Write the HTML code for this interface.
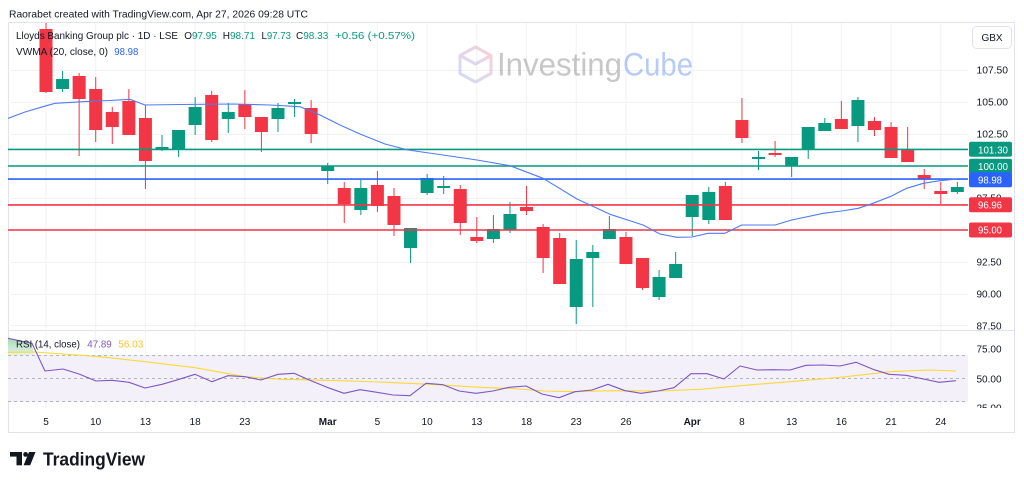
<!DOCTYPE html>
<html><head><meta charset="utf-8">
<style>
html,body{margin:0;padding:0;background:#fff;}
svg{display:block;}
text{font-family:"Liberation Sans",sans-serif;}
</style></head><body>
<svg width="1024" height="484" viewBox="0 0 1024 484" xmlns="http://www.w3.org/2000/svg">
<defs>
<clipPath id="mainClip"><rect x="8" y="23" width="960" height="307"/></clipPath>
<clipPath id="rsiClip"><rect x="8" y="331" width="960" height="77"/></clipPath>
<clipPath id="axClip"><rect x="969" y="23" width="46" height="307"/></clipPath>
<clipPath id="raxClip"><rect x="969" y="331" width="46" height="77"/></clipPath>
<linearGradient id="cubeG" x1="0" y1="1" x2="1" y2="0">
<stop offset="0" stop-color="#aebff5"/><stop offset="1" stop-color="#f3a9b6"/>
</linearGradient>
<linearGradient id="obG" x1="0" y1="0" x2="0" y2="1">
<stop offset="0" stop-color="#a9d9b6"/><stop offset="1" stop-color="#e3f3e7"/>
</linearGradient>
</defs>
<rect width="1024" height="484" fill="#fff"/>

<!-- header -->
<text x="9" y="17.3" font-size="10.5" fill="#131722" textLength="299" lengthAdjust="spacingAndGlyphs">Raorabet created with TradingView.com, Apr 27, 2026 09:28 UTC</text>

<!-- frame -->
<rect x="8.5" y="22.5" width="1006" height="410" fill="none" stroke="#e0e3eb" stroke-width="1"/>
<line x1="8" y1="330.5" x2="1015" y2="330.5" stroke="#e0e3eb" stroke-width="1"/>

<!-- grid -->
<g stroke="#f0f2f6" stroke-width="1">
<line x1="8" y1="70.5" x2="968" y2="70.5"/>
<line x1="8" y1="102.5" x2="968" y2="102.5"/>
<line x1="8" y1="134.5" x2="968" y2="134.5"/>
<line x1="8" y1="166.5" x2="968" y2="166.5"/>
<line x1="8" y1="198.5" x2="968" y2="198.5"/>
<line x1="8" y1="230.5" x2="968" y2="230.5"/>
<line x1="8" y1="262.5" x2="968" y2="262.5"/>
<line x1="8" y1="294.5" x2="968" y2="294.5"/>
<line x1="8" y1="325.5" x2="968" y2="325.5"/>
<line x1="46" y1="23" x2="46" y2="408"/>
<line x1="95.7" y1="23" x2="95.7" y2="408"/>
<line x1="145.4" y1="23" x2="145.4" y2="408"/>
<line x1="195.1" y1="23" x2="195.1" y2="408"/>
<line x1="244.8" y1="23" x2="244.8" y2="408"/>
<line x1="327.7" y1="23" x2="327.7" y2="408"/>
<line x1="377.4" y1="23" x2="377.4" y2="408"/>
<line x1="427.1" y1="23" x2="427.1" y2="408"/>
<line x1="476.8" y1="23" x2="476.8" y2="408"/>
<line x1="526.5" y1="23" x2="526.5" y2="408"/>
<line x1="576.2" y1="23" x2="576.2" y2="408"/>
<line x1="626" y1="23" x2="626" y2="408"/>
<line x1="692.2" y1="23" x2="692.2" y2="408"/>
<line x1="741.9" y1="23" x2="741.9" y2="408"/>
<line x1="791.7" y1="23" x2="791.7" y2="408"/>
<line x1="841.4" y1="23" x2="841.4" y2="408"/>
<line x1="891.1" y1="23" x2="891.1" y2="408"/>
<line x1="940.8" y1="23" x2="940.8" y2="408"/>
</g>

<!-- watermark -->
<g opacity="0.55">
<g fill="none" stroke="url(#cubeG)" stroke-width="3" stroke-linejoin="round">
<polygon points="475.5,47 491,55.5 491,73.5 475.5,82 460,73.5 460,55.5"/>
<polyline points="460,55.5 475.5,64 491,55.5"/>
<line x1="475.5" y1="64" x2="475.5" y2="82"/>
</g>
<text x="497" y="75.5" font-size="32" fill="#9a9a9a" textLength="125" lengthAdjust="spacingAndGlyphs">Investing</text>
<text x="623" y="75.5" font-size="32" fill="#7ea2f2" textLength="70" lengthAdjust="spacingAndGlyphs">Cube</text>
</g>

<!-- candles -->
<g clip-path="url(#mainClip)">
<g fill="#f23645">
<rect x="45.5" y="22" width="1" height="71"/><rect x="39.5" y="29" width="13" height="63"/>
<rect x="78.64" y="73" width="1" height="83"/><rect x="72.64" y="76" width="13" height="23"/>
<rect x="95.21" y="77" width="1" height="65"/><rect x="89.21" y="89" width="13" height="41"/>
<rect x="111.78" y="107" width="1" height="37"/><rect x="105.78" y="112" width="13" height="15"/>
<rect x="128.35" y="89" width="1" height="46"/><rect x="122.35" y="101" width="13" height="34"/>
<rect x="144.92" y="105" width="1" height="84"/><rect x="138.92" y="118" width="13" height="43"/>
<rect x="211.2" y="91" width="1" height="51"/><rect x="205.2" y="95" width="13" height="45"/>
<rect x="244.34" y="90" width="1" height="39"/><rect x="238.34" y="104" width="13" height="13"/>
<rect x="260.91" y="117" width="1" height="35"/><rect x="254.91" y="117" width="13" height="15"/>
<rect x="310.62" y="100" width="1" height="43"/><rect x="304.62" y="108" width="13" height="26"/>
<rect x="343.76" y="182" width="1" height="41"/><rect x="337.76" y="188" width="13" height="16"/>
<rect x="376.9" y="171" width="1" height="41"/><rect x="370.9" y="185" width="13" height="21"/>
<rect x="393.47" y="188" width="1" height="48"/><rect x="387.47" y="196" width="13" height="29"/>
<rect x="459.75" y="185" width="1" height="50"/><rect x="453.75" y="189" width="13" height="34"/>
<rect x="476.32" y="217" width="1" height="26"/><rect x="470.32" y="237" width="13" height="4"/>
<rect x="526.03" y="186" width="1" height="29"/><rect x="520.03" y="207" width="13" height="4"/>
<rect x="542.6" y="224" width="1" height="49"/><rect x="536.6" y="227" width="13" height="31"/>
<rect x="559.17" y="233" width="1" height="51"/><rect x="553.17" y="238" width="13" height="46"/>
<rect x="625.45" y="232" width="1" height="32"/><rect x="619.45" y="237" width="13" height="27"/>
<rect x="642.02" y="258" width="1" height="32"/><rect x="636.02" y="258" width="13" height="30"/>
<rect x="724.87" y="182" width="1" height="38"/><rect x="718.87" y="186" width="13" height="34"/>
<rect x="741.44" y="98" width="1" height="45"/><rect x="735.44" y="120" width="13" height="18"/>
<rect x="774.58" y="141" width="1" height="16"/><rect x="768.58" y="153" width="13" height="2"/>
<rect x="840.86" y="101" width="1" height="28"/><rect x="834.86" y="119" width="13" height="10"/>
<rect x="874.0" y="117" width="1" height="19"/><rect x="868.0" y="121" width="13" height="9"/>
<rect x="890.57" y="122" width="1" height="36"/><rect x="884.57" y="127" width="13" height="31"/>
<rect x="907.14" y="127" width="1" height="35"/><rect x="901.14" y="149" width="13" height="13"/>
<rect x="923.71" y="169" width="1" height="20"/><rect x="917.71" y="175" width="13" height="4"/>
<rect x="940.28" y="182" width="1" height="22"/><rect x="934.28" y="191" width="13" height="3"/>
</g>
<g fill="#089981">
<rect x="62.07" y="71" width="1" height="21"/><rect x="56.07" y="79" width="13" height="10"/>
<rect x="161.49" y="135" width="1" height="16"/><rect x="155.49" y="147" width="13" height="3"/>
<rect x="178.06" y="130" width="1" height="27"/><rect x="172.06" y="130" width="13" height="19"/>
<rect x="194.63" y="97" width="1" height="38"/><rect x="188.63" y="107" width="13" height="18"/>
<rect x="227.77" y="103" width="1" height="30"/><rect x="221.77" y="112" width="13" height="7"/>
<rect x="277.48" y="103" width="1" height="29"/><rect x="271.48" y="108" width="13" height="11"/>
<rect x="294.05" y="99" width="1" height="18"/><rect x="288.05" y="102" width="13" height="2"/>
<rect x="327.19" y="163" width="1" height="21"/><rect x="321.19" y="166" width="13" height="5"/>
<rect x="360.33" y="180" width="1" height="35"/><rect x="354.33" y="188" width="13" height="22"/>
<rect x="410.04" y="228" width="1" height="35"/><rect x="404.04" y="228" width="13" height="20"/>
<rect x="426.61" y="174" width="1" height="21"/><rect x="420.61" y="178" width="13" height="15"/>
<rect x="443.18" y="176" width="1" height="18"/><rect x="437.18" y="186" width="13" height="2"/>
<rect x="492.89" y="215" width="1" height="28"/><rect x="486.89" y="229" width="13" height="10"/>
<rect x="509.46" y="202" width="1" height="31"/><rect x="503.46" y="214" width="13" height="16"/>
<rect x="575.74" y="240" width="1" height="84"/><rect x="569.74" y="259" width="13" height="48"/>
<rect x="592.31" y="245" width="1" height="62"/><rect x="586.31" y="252" width="13" height="6"/>
<rect x="608.88" y="216" width="1" height="23"/><rect x="602.88" y="229" width="13" height="10"/>
<rect x="658.59" y="270" width="1" height="30"/><rect x="652.59" y="277" width="13" height="20"/>
<rect x="675.16" y="252" width="1" height="26"/><rect x="669.16" y="264" width="13" height="14"/>
<rect x="691.73" y="195" width="1" height="41"/><rect x="685.73" y="195" width="13" height="22"/>
<rect x="708.3" y="187" width="1" height="37"/><rect x="702.3" y="192" width="13" height="28"/>
<rect x="758.01" y="151" width="1" height="19"/><rect x="752.01" y="157" width="13" height="2"/>
<rect x="791.15" y="157" width="1" height="20"/><rect x="785.15" y="157" width="13" height="9"/>
<rect x="807.72" y="127" width="1" height="32"/><rect x="801.72" y="127" width="13" height="23"/>
<rect x="824.29" y="118" width="1" height="13"/><rect x="818.29" y="123" width="13" height="8"/>
<rect x="857.43" y="97" width="1" height="45"/><rect x="851.43" y="100" width="13" height="26"/>
<rect x="956.85" y="182" width="1" height="12"/><rect x="950.85" y="187" width="13" height="5"/>
</g>

<!-- level lines -->
<line x1="8" y1="149.4" x2="968" y2="149.4" stroke="#089981" stroke-width="1.6"/>
<line x1="8" y1="166" x2="968" y2="166" stroke="#089981" stroke-width="1.6"/>
<line x1="8" y1="179.1" x2="968" y2="179.1" stroke="#2962ff" stroke-width="1.6"/>
<line x1="8" y1="204.9" x2="968" y2="204.9" stroke="#f23645" stroke-width="1.6"/>
<line x1="8" y1="230" x2="968" y2="230" stroke="#f23645" stroke-width="1.6"/>

<!-- VWMA -->
<polyline fill="none" stroke="#4e7cf5" stroke-width="1.1" stroke-linejoin="round"
points="8,118.3 25,112 43,106.7 55,103.3 83,101.7 110,100.5 130,99.3 145,105 180,104.5 233,104 270,105 300,106.7 320,115 340,125 360,134 385,144 408,150 443,155 477,160 510,165.7 543,178.3 577,199 610,214.3 643,225 660,234 677,237.3 692,237 708,233.3 725,233.3 741.7,225 775,225 791.7,220 823.3,213.3 841.7,211 858.3,208.3 873,203.3 890,196.7 906.7,188.3 923.3,183.3 940,180.7 957,179"/>
</g>

<!-- legend -->
<text x="16" y="39" font-size="10.5" fill="#131722" textLength="162" lengthAdjust="spacingAndGlyphs">Lloyds Banking Group plc · 1D · LSE</text>
<text x="184.3" y="39" font-size="10.5" fill="#131722" textLength="32.4" lengthAdjust="spacingAndGlyphs">O<tspan fill="#089981">97.95</tspan></text>
<text x="222.7" y="39" font-size="10.5" fill="#131722" textLength="32.3" lengthAdjust="spacingAndGlyphs">H<tspan fill="#089981">98.71</tspan></text>
<text x="261.5" y="39" font-size="10.5" fill="#131722" textLength="29.5" lengthAdjust="spacingAndGlyphs">L<tspan fill="#089981">97.73</tspan></text>
<text x="296" y="39" font-size="10.5" fill="#131722" textLength="32.3" lengthAdjust="spacingAndGlyphs">C<tspan fill="#089981">98.33</tspan></text>
<text x="335" y="39" font-size="10.5" fill="#089981" textLength="80" lengthAdjust="spacingAndGlyphs">+0.56 (+0.57%)</text>
<text x="16" y="55" font-size="10.5" fill="#131722" textLength="92" lengthAdjust="spacingAndGlyphs">VWMA (20, close, 0)</text>
<text x="114.3" y="55" font-size="10.5" fill="#2962ff" textLength="24" lengthAdjust="spacingAndGlyphs">98.98</text>

<!-- price axis -->
<rect x="972.5" y="26.5" width="39" height="22" rx="4" fill="#fff" stroke="#e0e3eb"/>
<text x="992" y="41" font-size="10" fill="#131722" text-anchor="middle">GBX</text>
<g clip-path="url(#axClip)" font-size="10" fill="#131722">
<text x="976.5" y="73.5" textLength="31.5" lengthAdjust="spacingAndGlyphs">107.50</text>
<text x="976.5" y="105.5" textLength="31.5" lengthAdjust="spacingAndGlyphs">105.00</text>
<text x="976.5" y="137.5" textLength="31.5" lengthAdjust="spacingAndGlyphs">102.50</text>
<text x="976.5" y="201.5" textLength="25" lengthAdjust="spacingAndGlyphs">97.50</text>
<text x="976.5" y="265.5" textLength="25" lengthAdjust="spacingAndGlyphs">92.50</text>
<text x="976.5" y="297.5" textLength="25" lengthAdjust="spacingAndGlyphs">90.00</text>
<text x="976.5" y="329.5" textLength="25" lengthAdjust="spacingAndGlyphs">87.50</text>
</g>
<rect x="969" y="141.8" width="43" height="15" rx="2" fill="#089981"/>
<text x="978" y="153.3" font-size="10" fill="#fff" textLength="30" lengthAdjust="spacingAndGlyphs">101.30</text>
<rect x="969" y="158.7" width="43" height="15" rx="2" fill="#089981"/>
<text x="978" y="170.2" font-size="10" fill="#fff" textLength="30" lengthAdjust="spacingAndGlyphs">100.00</text>
<rect x="969" y="172.2" width="43" height="15" rx="2" fill="#2962ff"/>
<text x="978" y="183.4" font-size="10" fill="#fff" textLength="24" lengthAdjust="spacingAndGlyphs">98.98</text>
<rect x="969" y="197.3" width="43" height="15" rx="2" fill="#f23645"/>
<text x="978" y="208.5" font-size="10" fill="#fff" textLength="24" lengthAdjust="spacingAndGlyphs">96.96</text>
<rect x="969" y="222.5" width="43" height="15" rx="2" fill="#f23645"/>
<text x="978" y="233.7" font-size="10" fill="#fff" textLength="24" lengthAdjust="spacingAndGlyphs">95.00</text>

<!-- RSI pane -->
<g clip-path="url(#rsiClip)">
<rect x="8" y="355" width="960" height="47" fill="#f3f0fa"/>
<polygon points="8,338.3 32,343.3 34.2,355 8,355" fill="url(#obG)"/>
<g stroke="#b2b5be" stroke-width="1" stroke-dasharray="3,3">
<line x1="8" y1="355.5" x2="968" y2="355.5"/>
<line x1="8" y1="378.5" x2="968" y2="378.5"/>
<line x1="8" y1="401.5" x2="968" y2="401.5"/>
</g>
<polyline fill="none" stroke="#fdd835" stroke-width="1.1" stroke-linejoin="round"
points="8,352.3 35,352 100,356.7 145,361.7 195,367.7 245,376.7 280,379.3 330,380.3 380,382 430,384.3 480,387.3 512,388.5 545,391 575,391.7 610,390.7 660,391 700,389.3 740,385.7 790,381.7 840,377.3 890,371.7 930,370 956,371"/>
<polyline fill="none" stroke="#7e57c2" stroke-width="1.1" stroke-linejoin="round"
points="8,338.3 32,343.3 45,371 63,369 79,374 96,381 112,380.3 129,382.3 145,388 162,384.3 178,379.7 195,374.3 212,381.7 228,375.7 245,376.7 261,380 278,374.3 294,373.3 311,380.7 327,387.3 344,393.3 360,389.7 377,392.3 393,395 410,395.7 426,383.3 443,384.7 459,391 476,393.3 493,391 509,387.3 526,386 542,394 559,397.7 575,391.7 592,390 608,384.3 625,390.7 641,393.3 658,391 674,387.7 691,373.7 707,373.7 724,379 740,366 757,370 773,369.7 790,370 806,365.3 823,365 840,366 856,362.3 873,369.3 889,374.3 906,375.3 922,378.7 939,382.3 956,380.7"/>
</g>
<text x="16" y="347.3" font-size="10.5" fill="#131722" textLength="64" lengthAdjust="spacingAndGlyphs">RSI (14, close)</text>
<text x="87.3" y="347.3" font-size="10.5" fill="#7e57c2" textLength="24.4" lengthAdjust="spacingAndGlyphs">47.89</text>
<text x="118.3" y="347.3" font-size="10.5" fill="#f7c331" textLength="25" lengthAdjust="spacingAndGlyphs">56.03</text>
<g clip-path="url(#raxClip)" font-size="10" fill="#131722">
<text x="976.5" y="352.5" textLength="25" lengthAdjust="spacingAndGlyphs">75.00</text>
<text x="976.5" y="382.5" textLength="25" lengthAdjust="spacingAndGlyphs">50.00</text>
<text x="976.5" y="411.5" textLength="25" lengthAdjust="spacingAndGlyphs">25.00</text>
</g>

<!-- time axis -->
<g font-size="10" fill="#131722" text-anchor="middle">
<text x="46" y="425">5</text>
<text x="95.7" y="425">10</text>
<text x="145.4" y="425">13</text>
<text x="195.1" y="425">18</text>
<text x="244.8" y="425">23</text>
<text x="327.7" y="425" font-weight="bold">Mar</text>
<text x="377.4" y="425">5</text>
<text x="427.1" y="425">10</text>
<text x="476.8" y="425">13</text>
<text x="526.5" y="425">18</text>
<text x="576.2" y="425">23</text>
<text x="626" y="425">26</text>
<text x="692.2" y="425" font-weight="bold">Apr</text>
<text x="741.9" y="425">8</text>
<text x="791.7" y="425">13</text>
<text x="841.4" y="425">16</text>
<text x="891.1" y="425">21</text>
<text x="940.8" y="425">24</text>
</g>

<!-- TradingView logo -->
<g fill="#131722">
<rect x="10" y="452" width="12" height="4.6"/>
<rect x="16.5" y="452" width="5.5" height="13.3"/>
<circle cx="25.6" cy="454.4" r="2.4"/>
<polygon points="29,452 35.5,452 30.2,465.3 23.6,465.3"/>
</g>
<text x="43" y="465.5" font-size="18.5" font-weight="bold" fill="#131722" textLength="102" lengthAdjust="spacingAndGlyphs">TradingView</text>
</svg>
</body></html>
